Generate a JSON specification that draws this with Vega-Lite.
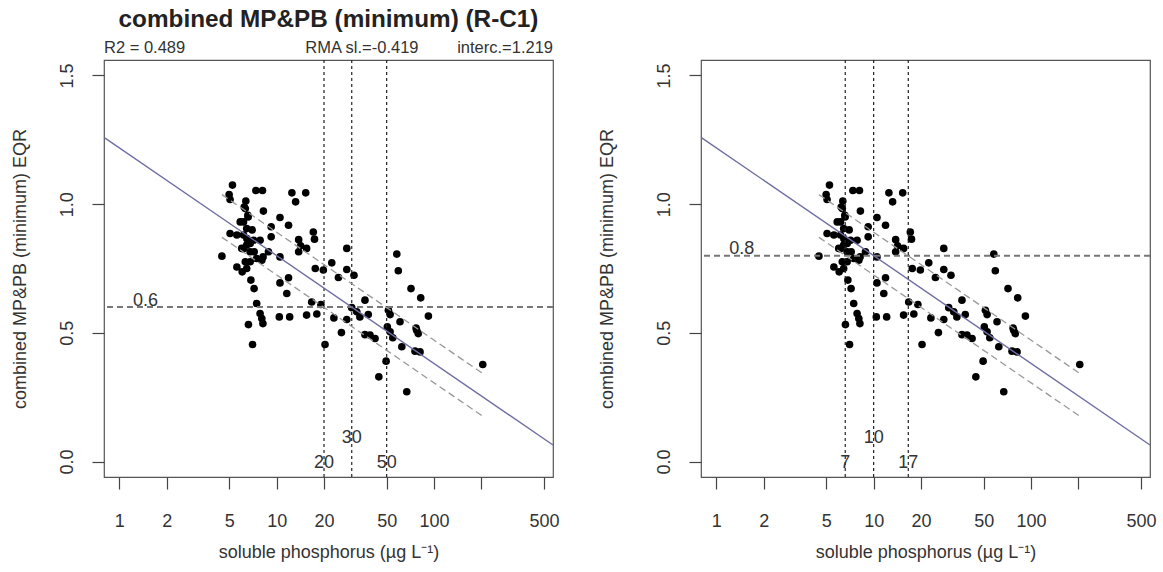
{
  "$schema": "https://vega.github.io/schema/vega-lite/v6.json",
  "background": "white",
  "padding": {"left": 10, "top": 7, "right": 5, "bottom": 4},
  "config": {
    "font": "Liberation Sans",
    "view": {"stroke": "#555", "strokeWidth": 1.2},
    "axis": {"grid": false, "domain": false, "tickColor": "#444", "tickSize": 12, "tickWidth": 1.2,
      "labelFontSize": 18, "titleFontSize": 18, "labelColor": "#333", "titleColor": "#333",
      "titleFontWeight": "normal", "labelFont": "Liberation Sans", "titleFont": "Liberation Sans"},
    "concat": {"spacing": 37}
  },
  "datasets": {
    "pts": [
      {"x": 5.24, "y": 1.074}, {"x": 4.99, "y": 1.037}, {"x": 5.06, "y": 1.018}, {"x": 7.38, "y": 1.053},
      {"x": 8.13, "y": 1.053}, {"x": 12.5, "y": 1.044}, {"x": 15.3, "y": 1.044}, {"x": 13.2, "y": 1.009},
      {"x": 6.37, "y": 1.012}, {"x": 6.32, "y": 0.983}, {"x": 6.56, "y": 0.957}, {"x": 8.24, "y": 0.973},
      {"x": 10.5, "y": 0.948}, {"x": 11.9, "y": 0.918}, {"x": 9.23, "y": 0.912}, {"x": 6.16, "y": 0.931},
      {"x": 6.45, "y": 0.905}, {"x": 5.06, "y": 0.886}, {"x": 5.59, "y": 0.88}, {"x": 6.16, "y": 0.88},
      {"x": 7.13, "y": 0.86}, {"x": 7.85, "y": 0.86}, {"x": 9.23, "y": 0.873}, {"x": 6.45, "y": 0.841},
      {"x": 6.0, "y": 0.828}, {"x": 6.78, "y": 0.815}, {"x": 7.47, "y": 0.789}, {"x": 8.05, "y": 0.782},
      {"x": 8.87, "y": 0.815}, {"x": 10.5, "y": 0.795}, {"x": 4.49, "y": 0.798}, {"x": 5.59, "y": 0.756},
      {"x": 6.45, "y": 0.75}, {"x": 6.32, "y": 0.776}, {"x": 13.8, "y": 0.862}, {"x": 14.2, "y": 0.838},
      {"x": 15.5, "y": 0.828}, {"x": 13.8, "y": 0.815}, {"x": 17.1, "y": 0.892}, {"x": 17.4, "y": 0.864},
      {"x": 17.6, "y": 0.75}, {"x": 19.8, "y": 0.744}, {"x": 22.4, "y": 0.772}, {"x": 24.7, "y": 0.715},
      {"x": 27.9, "y": 0.828}, {"x": 27.9, "y": 0.746}, {"x": 31.0, "y": 0.724}, {"x": 6.86, "y": 0.705},
      {"x": 7.19, "y": 0.672}, {"x": 10.5, "y": 0.694}, {"x": 11.9, "y": 0.714}, {"x": 11.6, "y": 0.653},
      {"x": 7.47, "y": 0.614}, {"x": 7.85, "y": 0.575}, {"x": 8.05, "y": 0.556}, {"x": 8.18, "y": 0.536},
      {"x": 6.62, "y": 0.532}, {"x": 7.03, "y": 0.455}, {"x": 10.4, "y": 0.562}, {"x": 12.1, "y": 0.562},
      {"x": 15.5, "y": 0.569}, {"x": 18.0, "y": 0.573}, {"x": 16.7, "y": 0.62}, {"x": 19.1, "y": 0.61},
      {"x": 20.3, "y": 0.455}, {"x": 23.1, "y": 0.558}, {"x": 25.8, "y": 0.501}, {"x": 27.9, "y": 0.552},
      {"x": 30.0, "y": 0.598}, {"x": 32.3, "y": 0.582}, {"x": 33.8, "y": 0.562}, {"x": 36.4, "y": 0.627},
      {"x": 38.2, "y": 0.571}, {"x": 36.4, "y": 0.493}, {"x": 39.2, "y": 0.491}, {"x": 42.2, "y": 0.478},
      {"x": 44.6, "y": 0.329}, {"x": 51.3, "y": 0.588}, {"x": 52.6, "y": 0.571}, {"x": 50.5, "y": 0.523},
      {"x": 52.6, "y": 0.504}, {"x": 54.7, "y": 0.481}, {"x": 60.8, "y": 0.543}, {"x": 58.0, "y": 0.806},
      {"x": 59.3, "y": 0.741}, {"x": 71.4, "y": 0.672}, {"x": 82.3, "y": 0.636}, {"x": 92.1, "y": 0.565},
      {"x": 76.9, "y": 0.519}, {"x": 79.4, "y": 0.497}, {"x": 77.6, "y": 0.51}, {"x": 62.4, "y": 0.446},
      {"x": 75.7, "y": 0.429}, {"x": 81.5, "y": 0.426}, {"x": 49.6, "y": 0.39}, {"x": 67.1, "y": 0.271},
      {"x": 204, "y": 0.377}, {"x": 6.47, "y": 0.866}, {"x": 6.79, "y": 0.847}, {"x": 6.15, "y": 0.827},
      {"x": 6.79, "y": 0.776}, {"x": 5.87, "y": 0.931}, {"x": 6.99, "y": 0.9}, {"x": 6.59, "y": 0.95},
      {"x": 6.22, "y": 0.989}, {"x": 7.2, "y": 0.815}, {"x": 6.04, "y": 0.737}, {"x": 8.2, "y": 0.795}
    ],
    "reg": [{"x": 0.8, "y": 1.2596}, {"x": 570, "y": 0.0643}],
    "band": [
      {"x": 4.49, "y": 1.037, "side": "upper"}, {"x": 204, "y": 0.342, "side": "upper"},
      {"x": 4.49, "y": 0.871, "side": "lower"}, {"x": 204, "y": 0.176, "side": "lower"}
    ]
  },
  "hconcat": [
    {
      "width": 449,
      "height": 417,
      "title": {"text": "combined MP&PB (minimum) (R-C1)", "fontSize": 24.3, "fontWeight": "bold", "anchor": "middle", "offset": 8, "color": "#222", "font": "Liberation Sans"},
      "layer": [
        {
          "data": {"name": "pts"},
          "mark": {"type": "circle", "size": 58, "color": "black", "opacity": 1},
          "encoding": {
            "x": {"field": "x", "type": "quantitative", "scale": {"type": "log", "domain": [0.8, 570], "nice": false},
              "title": "soluble phosphorus (µg L⁻¹)",
              "axis": {"values": [1, 2, 5, 10, 20, 50, 100, 200, 500], "labelExpr": "datum.value == 200 ? '' : format(datum.value, 'd')", "labelPadding": 23, "titlePadding": 13, "labelFlush": false, "labelOverlap": false}},
            "y": {"field": "y", "type": "quantitative", "scale": {"domain": [-0.06, 1.56], "nice": false, "zero": false},
              "title": "combined MP&PB (minimum) EQR",
              "axis": {"values": [0, 0.5, 1, 1.5], "format": ".1f", "labelAngle": -90, "labelPadding": 16, "titlePadding": 29}}
          }
        },
        {
          "data": {"values": [{"y": 0.6}]},
          "mark": {"type": "rule", "color": "#777", "strokeDash": [6, 4], "strokeWidth": 2},
          "encoding": {"y": {"field": "y", "type": "quantitative", "scale": {"domain": [-0.06, 1.56], "nice": false, "zero": false}, "title": "combined MP&PB (minimum) EQR"}}
        },
        {
          "data": {"values": [{"x": 20}, {"x": 30}, {"x": 50}]},
          "mark": {"type": "rule", "color": "#222", "strokeDash": [3, 3], "strokeWidth": 1.2},
          "encoding": {"x": {"field": "x", "type": "quantitative", "scale": {"type": "log", "domain": [0.8, 570], "nice": false}, "title": "soluble phosphorus (µg L⁻¹)"}}
        },
        {
          "data": {"name": "band"},
          "mark": {"type": "line", "color": "#999", "strokeDash": [7, 4], "strokeWidth": 1.3},
          "encoding": {
            "x": {"field": "x", "type": "quantitative", "scale": {"type": "log", "domain": [0.8, 570], "nice": false}, "title": "soluble phosphorus (µg L⁻¹)"},
            "y": {"field": "y", "type": "quantitative", "scale": {"domain": [-0.06, 1.56], "nice": false, "zero": false}, "title": "combined MP&PB (minimum) EQR"},
            "detail": {"field": "side"}
          }
        },
        {
          "data": {"name": "reg"},
          "mark": {"type": "line", "color": "#6f6fa3", "strokeWidth": 1.4},
          "encoding": {
            "x": {"field": "x", "type": "quantitative", "scale": {"type": "log", "domain": [0.8, 570], "nice": false}, "title": "soluble phosphorus (µg L⁻¹)"},
            "y": {"field": "y", "type": "quantitative", "scale": {"domain": [-0.06, 1.56], "nice": false, "zero": false}, "title": "combined MP&PB (minimum) EQR"}
          }
        },
        {
          "data": {"values": [{"x": 20, "y": -0.005, "label": "20"}, {"x": 30, "y": 0.09, "label": "30"}, {"x": 50, "y": -0.005, "label": "50"}, {"x": 1.467, "y": 0.622, "label": "0.6"}]},
          "mark": {"type": "text", "fontSize": 18, "color": "#333", "align": "center", "baseline": "middle"},
          "encoding": {
            "x": {"field": "x", "type": "quantitative", "scale": {"type": "log", "domain": [0.8, 570], "nice": false}, "title": "soluble phosphorus (µg L⁻¹)"},
            "y": {"field": "y", "type": "quantitative", "scale": {"domain": [-0.06, 1.56], "nice": false, "zero": false}, "title": "combined MP&PB (minimum) EQR"},
            "text": {"field": "label"}
          }
        },
        {
          "data": {"values": [{"x": 0.8, "y": 1.605, "label": "R2 = 0.489"}]},
          "mark": {"type": "text", "fontSize": 16.5, "color": "#333", "align": "left", "baseline": "middle"},
          "encoding": {
            "x": {"field": "x", "type": "quantitative", "scale": {"type": "log", "domain": [0.8, 570], "nice": false}, "title": "soluble phosphorus (µg L⁻¹)"},
            "y": {"field": "y", "type": "quantitative", "scale": {"domain": [-0.06, 1.56], "nice": false, "zero": false}, "title": "combined MP&PB (minimum) EQR"},
            "text": {"field": "label"}
          }
        },
        {
          "data": {"values": [{"x": 34.8, "y": 1.605, "label": "RMA sl.=-0.419"}]},
          "mark": {"type": "text", "fontSize": 16.5, "color": "#333", "align": "center", "baseline": "middle"},
          "encoding": {
            "x": {"field": "x", "type": "quantitative", "scale": {"type": "log", "domain": [0.8, 570], "nice": false}, "title": "soluble phosphorus (µg L⁻¹)"},
            "y": {"field": "y", "type": "quantitative", "scale": {"domain": [-0.06, 1.56], "nice": false, "zero": false}, "title": "combined MP&PB (minimum) EQR"},
            "text": {"field": "label"}
          }
        },
        {
          "data": {"values": [{"x": 570, "y": 1.605, "label": "interc.=1.219"}]},
          "mark": {"type": "text", "fontSize": 16.5, "color": "#333", "align": "right", "baseline": "middle"},
          "encoding": {
            "x": {"field": "x", "type": "quantitative", "scale": {"type": "log", "domain": [0.8, 570], "nice": false}, "title": "soluble phosphorus (µg L⁻¹)"},
            "y": {"field": "y", "type": "quantitative", "scale": {"domain": [-0.06, 1.56], "nice": false, "zero": false}, "title": "combined MP&PB (minimum) EQR"},
            "text": {"field": "label"}
          }
        }
      ]
    },
    {
      "width": 449,
      "height": 417,
      "layer": [
        {
          "data": {"name": "pts"},
          "mark": {"type": "circle", "size": 58, "color": "black", "opacity": 1},
          "encoding": {
            "x": {"field": "x", "type": "quantitative", "scale": {"type": "log", "domain": [0.8, 570], "nice": false},
              "title": "soluble phosphorus (µg L⁻¹)",
              "axis": {"values": [1, 2, 5, 10, 20, 50, 100, 200, 500], "labelExpr": "datum.value == 200 ? '' : format(datum.value, 'd')", "labelPadding": 23, "titlePadding": 13, "labelFlush": false, "labelOverlap": false}},
            "y": {"field": "y", "type": "quantitative", "scale": {"domain": [-0.06, 1.56], "nice": false, "zero": false},
              "title": "combined MP&PB (minimum) EQR",
              "axis": {"values": [0, 0.5, 1, 1.5], "format": ".1f", "labelAngle": -90, "labelPadding": 16, "titlePadding": 39}}
          }
        },
        {
          "data": {"values": [{"y": 0.8}]},
          "mark": {"type": "rule", "color": "#777", "strokeDash": [6, 4], "strokeWidth": 2},
          "encoding": {"y": {"field": "y", "type": "quantitative", "scale": {"domain": [-0.06, 1.56], "nice": false, "zero": false}, "title": "combined MP&PB (minimum) EQR"}}
        },
        {
          "data": {"values": [{"x": 6.6}, {"x": 10}, {"x": 16.6}]},
          "mark": {"type": "rule", "color": "#222", "strokeDash": [3, 3], "strokeWidth": 1.2},
          "encoding": {"x": {"field": "x", "type": "quantitative", "scale": {"type": "log", "domain": [0.8, 570], "nice": false}, "title": "soluble phosphorus (µg L⁻¹)"}}
        },
        {
          "data": {"name": "band"},
          "mark": {"type": "line", "color": "#999", "strokeDash": [7, 4], "strokeWidth": 1.3},
          "encoding": {
            "x": {"field": "x", "type": "quantitative", "scale": {"type": "log", "domain": [0.8, 570], "nice": false}, "title": "soluble phosphorus (µg L⁻¹)"},
            "y": {"field": "y", "type": "quantitative", "scale": {"domain": [-0.06, 1.56], "nice": false, "zero": false}, "title": "combined MP&PB (minimum) EQR"},
            "detail": {"field": "side"}
          }
        },
        {
          "data": {"name": "reg"},
          "mark": {"type": "line", "color": "#6f6fa3", "strokeWidth": 1.4},
          "encoding": {
            "x": {"field": "x", "type": "quantitative", "scale": {"type": "log", "domain": [0.8, 570], "nice": false}, "title": "soluble phosphorus (µg L⁻¹)"},
            "y": {"field": "y", "type": "quantitative", "scale": {"domain": [-0.06, 1.56], "nice": false, "zero": false}, "title": "combined MP&PB (minimum) EQR"}
          }
        },
        {
          "data": {"values": [{"x": 6.6, "y": -0.005, "label": "7"}, {"x": 10, "y": 0.09, "label": "10"}, {"x": 16.6, "y": -0.005, "label": "17"}, {"x": 1.45, "y": 0.824, "label": "0.8"}]},
          "mark": {"type": "text", "fontSize": 18, "color": "#333", "align": "center", "baseline": "middle"},
          "encoding": {
            "x": {"field": "x", "type": "quantitative", "scale": {"type": "log", "domain": [0.8, 570], "nice": false}, "title": "soluble phosphorus (µg L⁻¹)"},
            "y": {"field": "y", "type": "quantitative", "scale": {"domain": [-0.06, 1.56], "nice": false, "zero": false}, "title": "combined MP&PB (minimum) EQR"},
            "text": {"field": "label"}
          }
        }
      ]
    }
  ]
}
